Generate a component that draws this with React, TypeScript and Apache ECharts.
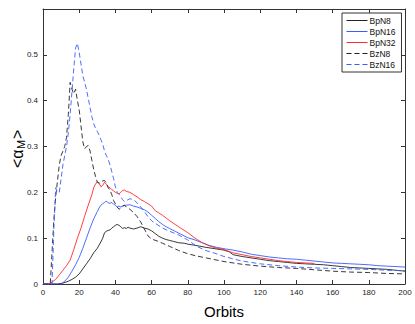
import React, { useEffect, useRef } from "react";
import * as echarts from "echarts";

type Pt = [number, number];

const seriesNames = ["BpN8", "BpN16", "BpN32", "BzN8", "BzN16"];
const xTicks = [0, 20, 40, 60, 80, 100, 120, 140, 160, 180, 200];
const yTicks = [0, 0.1, 0.2, 0.3, 0.4, 0.5];

const bpN8: Pt[] = [[0,0],[8,0],[11,0.002],[14,0.006],[16,0.01],[18,0.015],[20,0.022],[22,0.033],[24,0.044],[26,0.055],[28,0.068],[30,0.078],[32,0.092],[33,0.1],[34,0.112],[35,0.115],[36,0.117],[37,0.118],[38,0.122],[39,0.125],[40,0.128],[41,0.13],[42,0.128],[43,0.125],[44,0.121],[45,0.123],[46,0.121],[47,0.124],[48,0.122],[50,0.12],[52,0.122],[54,0.125],[56,0.122],[58,0.12],[60,0.116],[62,0.11],[64,0.104],[66,0.1],[68,0.097],[70,0.095],[72,0.093],[75,0.09],[78,0.089],[80,0.087],[83,0.085],[86,0.083],[90,0.08],[95,0.077],[100,0.074],[103,0.07],[105,0.064],[110,0.06],[115,0.057],[120,0.054],[125,0.051],[130,0.049],[135,0.047],[140,0.045],[145,0.044],[150,0.043],[155,0.042],[160,0.04],[165,0.038],[170,0.036],[175,0.035],[180,0.034],[185,0.033],[190,0.032],[195,0.03],[200,0.028]];

const bpN16: Pt[] = [[0,0],[10,0],[12,0.006],[14,0.015],[16,0.028],[18,0.042],[20,0.058],[22,0.078],[24,0.1],[26,0.122],[28,0.142],[30,0.158],[31,0.166],[32,0.172],[33,0.175],[34,0.178],[35,0.181],[36,0.177],[37,0.176],[38,0.178],[39,0.174],[40,0.172],[41,0.168],[42,0.17],[43,0.168],[44,0.17],[46,0.172],[48,0.173],[50,0.17],[52,0.168],[54,0.165],[56,0.162],[58,0.157],[60,0.15],[62,0.143],[64,0.136],[66,0.13],[68,0.125],[70,0.121],[73,0.115],[76,0.109],[80,0.101],[84,0.096],[88,0.09],[92,0.084],[96,0.08],[100,0.077],[105,0.074],[110,0.07],[115,0.065],[120,0.062],[125,0.059],[130,0.057],[135,0.055],[140,0.054],[145,0.052],[150,0.05],[155,0.048],[160,0.046],[165,0.045],[170,0.044],[175,0.043],[180,0.042],[185,0.04],[190,0.039],[195,0.038],[200,0.037]];

const bpN32: Pt[] = [[0,0],[3,0],[5,0.004],[7,0.01],[9,0.02],[11,0.03],[13,0.04],[15,0.052],[17,0.075],[19,0.1],[21,0.122],[23,0.148],[25,0.172],[27,0.195],[28,0.21],[29,0.218],[30,0.223],[31,0.22],[32,0.212],[33,0.215],[34,0.222],[35,0.218],[36,0.212],[37,0.21],[38,0.206],[39,0.203],[40,0.2],[41,0.198],[42,0.197],[43,0.2],[44,0.204],[45,0.205],[46,0.202],[48,0.2],[50,0.195],[52,0.19],[54,0.184],[56,0.18],[58,0.175],[60,0.17],[62,0.16],[64,0.155],[66,0.15],[68,0.144],[70,0.138],[73,0.13],[76,0.122],[80,0.112],[84,0.1],[88,0.09],[92,0.083],[96,0.078],[100,0.075],[105,0.068],[110,0.064],[115,0.06],[120,0.057],[125,0.054],[130,0.051],[135,0.049],[140,0.047],[145,0.046],[150,0.045]];

const bzN8: Pt[] = [[0,0],[4,0],[5,0.07],[6,0.14],[7,0.19],[8,0.225],[9,0.26],[10,0.28],[11,0.29],[12,0.3],[13,0.32],[14,0.37],[15,0.44],[16,0.425],[17,0.415],[18,0.425],[19,0.4],[20,0.38],[21,0.345],[22,0.31],[23,0.295],[24,0.3],[25,0.302],[26,0.29],[27,0.27],[28,0.25],[29,0.235],[30,0.222],[31,0.22],[32,0.222],[33,0.225],[34,0.226],[35,0.22],[36,0.21],[37,0.205],[38,0.195],[39,0.182],[40,0.175],[41,0.168],[42,0.163],[43,0.166],[44,0.17],[45,0.172],[46,0.168],[48,0.163],[50,0.156],[52,0.147],[54,0.135],[56,0.12],[58,0.105],[60,0.098],[63,0.094],[66,0.089],[70,0.082],[75,0.073],[80,0.066],[85,0.061],[90,0.057],[95,0.053],[100,0.049],[105,0.046],[110,0.043],[120,0.039],[130,0.036],[140,0.034],[150,0.031],[160,0.028],[170,0.026],[180,0.025],[190,0.023],[200,0.022]];

const bzN16: Pt[] = [[0,0],[5,0],[6,0.12],[7,0.21],[8,0.2],[9,0.2],[10,0.23],[11,0.26],[12,0.28],[13,0.3],[14,0.33],[15,0.37],[16,0.42],[17,0.47],[18,0.515],[19,0.525],[20,0.505],[21,0.48],[22,0.455],[23,0.44],[24,0.425],[25,0.405],[26,0.385],[27,0.365],[28,0.35],[29,0.34],[30,0.333],[31,0.325],[32,0.315],[33,0.305],[34,0.29],[35,0.28],[36,0.272],[37,0.26],[38,0.245],[39,0.23],[40,0.212],[41,0.2],[42,0.196],[43,0.19],[44,0.184],[45,0.18],[46,0.182],[48,0.186],[50,0.184],[52,0.177],[54,0.168],[56,0.158],[58,0.147],[60,0.138],[63,0.13],[66,0.122],[70,0.115],[75,0.107],[80,0.096],[85,0.082],[90,0.073],[95,0.067],[100,0.06],[105,0.055],[110,0.05],[120,0.044],[130,0.04],[140,0.037],[150,0.035],[160,0.034],[170,0.033],[180,0.032],[190,0.03],[200,0.029]];

const FONT = "Liberation Sans, Arial, Helvetica, sans-serif";
const AXIS = "#333";

export default function App() {
  const ref = useRef<HTMLDivElement>(null);
  useEffect(() => {
    if (!ref.current) return;
    const chart = echarts.init(ref.current, undefined, { renderer: "svg" });
    const axisCommon = {
      type: "value" as const,
      axisLine: { show: true, onZero: false, lineStyle: { color: AXIS, width: 1 } },
      axisTick: { show: true, inside: true, length: 4, lineStyle: { color: AXIS } },
      splitLine: { show: false },
    };
    const mk = (name: string, data: Pt[], color: string, dashed: boolean) => ({
      name,
      type: "line" as const,
      data,
      showSymbol: false,
      symbol: "none",
      xAxisIndex: 0,
      yAxisIndex: 0,
      lineStyle: { color, width: 0.9, type: dashed ? [5, 3] : "solid" },
      itemStyle: { color },
    });
    chart.setOption({
      animation: false,
      backgroundColor: "#fff",
      grid: { left: 43, right: 10, top: 9, bottom: 30, containLabel: false },
      xAxis: [
        {
          ...axisCommon,
          min: 0,
          max: 200,
          interval: 20,
          position: "bottom",
          axisLabel: {
            fontSize: 8,
            color: "#222",
            fontFamily: FONT,
            margin: 4,
            formatter: (v: number) => (xTicks.includes(v) ? String(v) : ""),
          },
          name: "Orbits",
          nameLocation: "middle",
          nameGap: 20,
          nameTextStyle: { fontSize: 15, color: "#000", fontFamily: FONT },
        },
        {
          ...axisCommon,
          min: 0,
          max: 200,
          interval: 20,
          position: "top",
          axisLabel: { show: false },
        },
      ],
      yAxis: [
        {
          ...axisCommon,
          min: 0,
          max: 0.6,
          interval: 0.1,
          position: "left",
          axisLabel: {
            fontSize: 8,
            color: "#222",
            fontFamily: FONT,
            margin: 5,
            formatter: (v: number) => {
              const t = yTicks.find((y) => Math.abs(y - v) < 1e-9);
              if (t === undefined) return "";
              return t === 0 ? "0" : t.toFixed(1);
            },
          },
        },
        {
          ...axisCommon,
          min: 0,
          max: 0.6,
          interval: 0.1,
          position: "right",
          axisLabel: { show: false },
        },
      ],
      legend: {
        orient: "vertical",
        left: 342,
        top: 13,
        data: seriesNames,
        itemWidth: 21,
        itemHeight: 8,
        itemGap: 2,
        padding: [3, 6, 3, 4],
        backgroundColor: "#fff",
        borderColor: "#333",
        borderWidth: 1,
        borderRadius: 0,
        itemStyle: { opacity: 0, borderWidth: 0 },
        lineStyle: { width: 1 },
        textStyle: { fontSize: 8.5, color: "#111", fontFamily: FONT, padding: [0, 0, 0, -3] },
      },
      series: [
        mk(seriesNames[0], bpN8, "#222", false),
        mk(seriesNames[1], bpN16, "#3a5cff", false),
        mk(seriesNames[2], bpN32, "#ff2a2a", false),
        mk(seriesNames[3], bzN8, "#222", true),
        mk(seriesNames[4], bzN16, "#3a5cff", true),
      ],
      graphic: [
        {
          type: "group",
          x: 17,
          y: 148,
          rotation: Math.PI / 2,
          children: [
            {
              type: "text",
              x: -20,
              y: 0,
              style: { text: "<α", fontSize: 16, fontFamily: FONT, fill: "#000", textVerticalAlign: "middle" },
            },
            {
              type: "text",
              x: -1,
              y: 4,
              style: { text: "M", fontSize: 11, fontFamily: FONT, fill: "#000", textVerticalAlign: "middle" },
            },
            {
              type: "text",
              x: 9,
              y: 0,
              style: { text: ">", fontSize: 16, fontFamily: FONT, fill: "#000", textVerticalAlign: "middle" },
            },
          ],
        },
      ],
    });
    return () => chart.dispose();
  }, []);
  return <div ref={ref} style={{ width: 415, height: 324, position: "absolute", left: 0, top: 0 }} />;
}
